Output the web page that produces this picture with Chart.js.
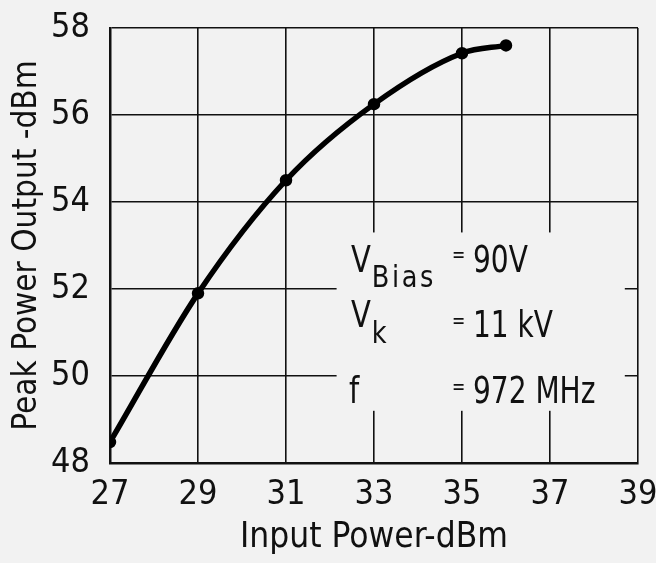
<!DOCTYPE html>
<html><head><meta charset="utf-8">
<script src="https://cdn.jsdelivr.net/npm/chart.js@4/dist/chart.umd.min.js"></script>
<style>html,body{margin:0;padding:0;background:#f2f2f2;}#wrap{width:656px;height:563px;}</style>
</head><body>
<div id="wrap"><canvas id="c" width="656" height="563"></canvas></div>
<script>
const inputPower = [27, 29, 31, 33, 35, 36];
const peakPower = [48.48, 51.9, 54.5, 56.25, 57.42, 57.6];
const xTicks = [27, 29, 31, 33, 35, 37, 39];
const yTicks = [48, 50, 52, 54, 56, 58];
const xTitle = "Input Power-dBm";
const yTitle = "Peak Power Output -dBm";
const notes = [
  {name: "V", sub: "Bias", value: "90V"},
  {name: "V", sub: "k", value: "11 kV"},
  {name: "f", sub: "", value: "972 MHz"}
];

const FONT = "'Liberation Sans Narrow','DejaVu Sans Condensed','Roboto Condensed',sans-serif";
const BG = "#f2f2f2";

function squeezed(ctx, str, x, y, size, sx) {
  ctx.save();
  ctx.font = size + "px " + FONT;
  ctx.translate(x, y);
  ctx.scale(sx, 1);
  ctx.fillText(str, 0, 0);
  const w = ctx.measureText(str).width * sx;
  ctx.restore();
  return w;
}

const annot = {
  id: 'annot',
  beforeDatasetsDraw(chart) {
    const {ctx, scales: {x, y}} = chart;
    const x0 = x.getPixelForValue(32.15), x1 = x.getPixelForValue(38.7);
    const y0 = y.getPixelForValue(53.3), y1 = y.getPixelForValue(49.2);
    ctx.save();
    ctx.fillStyle = BG;
    ctx.fillRect(x0, y0, x1 - x0, y1 - y0);
    ctx.restore();
  },
  afterDraw(chart) {
    const {ctx} = chart;
    ctx.save();
    ctx.fillStyle = '#111';
    ctx.textBaseline = 'alphabetic';
    const rows = [
      {nx: 351, ny: 272, sy: 287, vy: 272, ey: 262},
      {nx: 351, ny: 327, sy: 343, vy: 337, ey: 328},
      {nx: 349, ny: 403, sy: 403, vy: 403, ey: 394}
    ];
    notes.forEach((n, i) => {
      const r = rows[i];
      const w = squeezed(ctx, n.name, r.nx, r.ny, 38, 0.85);
      if (n.sub) {
        squeezed(ctx, n.sub.split('').join(String.fromCharCode(8202)), r.nx + w + 1, r.sy, 30, 0.95);
      }
      squeezed(ctx, "=", 452, r.ey, 22, 0.8);
      squeezed(ctx, n.value, 473, r.vy, 38, 0.82);
    });
    ctx.restore();
  }
};

new Chart(document.getElementById('c'), {
  type: 'line',
  data: {
    datasets: [{
      data: inputPower.map((v, i) => ({x: v, y: peakPower[i]})),
      borderColor: '#000',
      backgroundColor: '#000',
      borderWidth: 5.5,
      pointRadius: 3.5,
      pointBackgroundColor: '#000',
      cubicInterpolationMode: 'monotone',
      fill: false
    }]
  },
  options: {
    responsive: false,
    animation: false,
    devicePixelRatio: 1,
    layout: {padding: {left: 0, top: 28, right: 18, bottom: 0}},
    plugins: {legend: {display: false}, tooltip: {enabled: false}},
    scales: {
      x: {
        type: 'linear', min: 27, max: 39,
        afterBuildTicks: s => { s.ticks = xTicks.map(v => ({value: v})); },
        afterFit: s => { s.height = 100; s.paddingLeft = 0; s.paddingRight = 0; },
        grid: {color: '#111', lineWidth: 1.6, drawTicks: false},
        border: {color: '#111', width: 2.5},
        ticks: {color: '#111', padding: 12, font: {family: FONT, size: 34}},
        title: {display: true, text: xTitle, color: '#111', font: {family: FONT, size: 35}, padding: {top: 4}}
      },
      y: {
        type: 'linear', min: 48, max: 58,
        afterBuildTicks: s => { s.ticks = yTicks.map(v => ({value: v})); },
        afterFit: s => { s.width = 110; s.paddingTop = 0; s.paddingBottom = 0; },
        grid: {color: '#111', lineWidth: 1.6, drawTicks: false},
        border: {color: '#111', width: 2.5},
        ticks: {color: '#111', padding: 20, font: {family: FONT, size: 34}},
        title: {display: true, text: yTitle, color: '#111', font: {family: FONT, size: 33}, padding: {top: 8, bottom: 0}}
      }
    }
  },
  plugins: [annot]
});
</script>
</body></html>
